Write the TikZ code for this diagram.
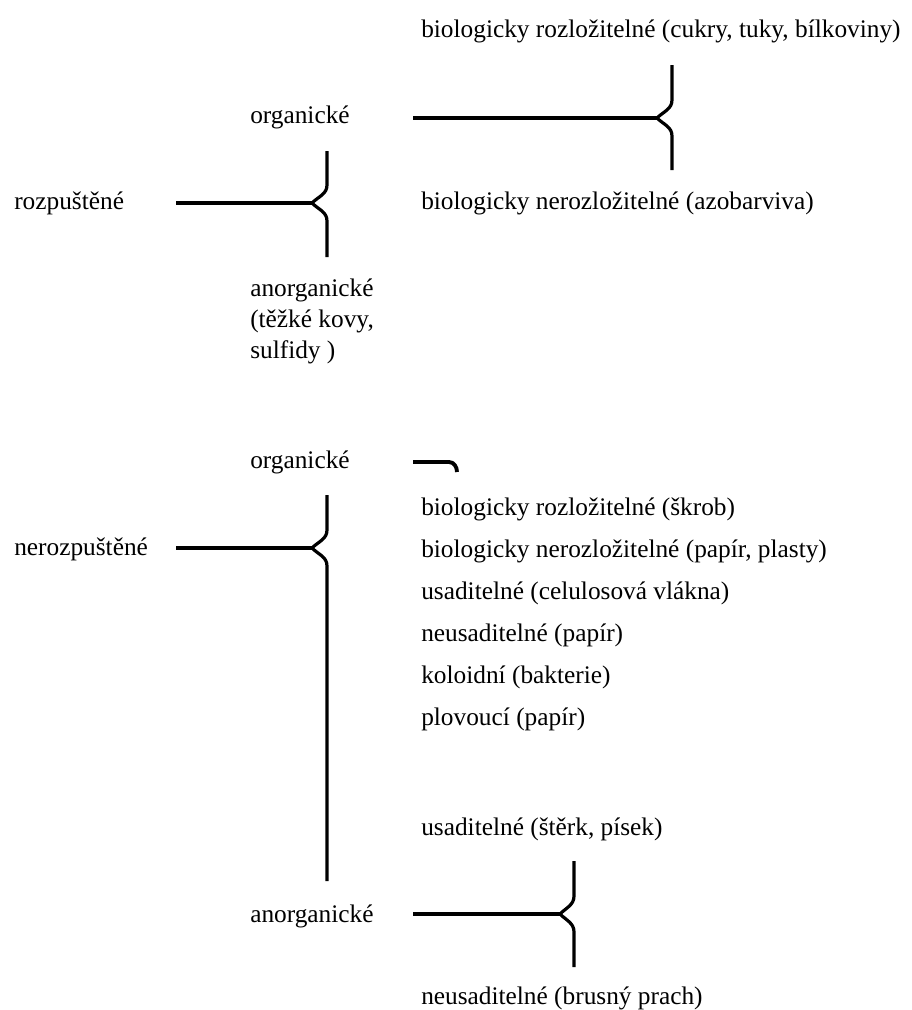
\documentclass[tikz,border=0pt]{standalone}
\usepackage{fontspec}
\setmainfont{Liberation Serif}
\usetikzlibrary{positioning}

\begin{document}
\begin{tikzpicture}
                [x=0.75pt,y=-0.75pt,node distance=12.7pt,
                lbl/.style={anchor=base west,inner sep=0pt,font=\fontsize{19}{23.25}\selectfont},
                item/.style={lbl,text height=14pt,text depth=4.5pt},
                bar/.style={line width=2.9pt},
                stem/.style={line width=2.4pt}]
                \useasboundingbox (0,0) rectangle (912,1010);
                % rozpustene
                \node[lbl] (rozp) at (14,209){rozpuštěné};
                \node[lbl] (orgA) at (250,123){organické};
                \node[lbl,align=left] (anorgA) at (250,358){anorganické\\(těžké kovy,\\sulfidy )};
                \node[lbl] (bioA) at (421,37){biologicky rozložitelné (cukry, tuky, bílkoviny)};
                \node[lbl] (bioB) at (421,209){biologicky nerozložitelné (azobarviva)};
                % nerozpustene
                \node[lbl] (neroz) at (14,555){nerozpuštěné};
                \node[lbl] (orgB) at (250,468){organické};
                \node[lbl] (anorgB) at (250,922){anorganické};
                \node[item] (i1) at (421,515){biologicky rozložitelné (škrob)};
                \node[item,below=of i1.south west,anchor=north west] (i2){biologicky nerozložitelné (papír, plasty)};
                \node[item,below=of i2.south west,anchor=north west] (i3){usaditelné (celulosová vlákna)};
                \node[item,below=of i3.south west,anchor=north west] (i4){neusaditelné (papír)};
                \node[item,below=of i4.south west,anchor=north west] (i5){koloidní (bakterie)};
                \node[item,below=of i5.south west,anchor=north west] (i6){plovoucí (papír)};
                \node[lbl] (usad) at (421,835){usaditelné (štěrk, písek)};
                \node[lbl] (neusad) at (421,1004){neusaditelné (brusný prach)};
                % brace points
                \coordinate (sA) at (413,118); \coordinate (tA) at (657,118);
                \coordinate (uA) at (672,65);  \coordinate (dA) at (672,170);
                \coordinate (sB) at (176,203); \coordinate (tB) at (312,203);
                \coordinate (uB) at (327,151); \coordinate (dB) at (327,257);
                \coordinate (sC) at (176,548); \coordinate (tC) at (312,548);
                \coordinate (uC) at (327,495); \coordinate (dC) at (327,881);
                \coordinate (sD) at (413,914); \coordinate (tD) at (560,914);
                \coordinate (uD) at (574,861); \coordinate (dD) at (574,967);
                \coordinate (hS) at (413,462); \coordinate (hE) at (457,472);
                \foreach \b in {A,B,C,D}{
                  \draw[bar] (s\b) -- (t\b);
                  \draw[stem] (u\b) -- ([yshift=13.5pt]u\b |- t\b) to[out=-90,in=45] (t\b)
                              to[out=-45,in=90] ([yshift=-13.5pt]d\b |- t\b) -- (d\b);
                }
                \draw[bar] (hS) -- ([xshift=-6pt]hE |- hS) to[out=0,in=90] (hE);
            \end{tikzpicture}
\end{document}
